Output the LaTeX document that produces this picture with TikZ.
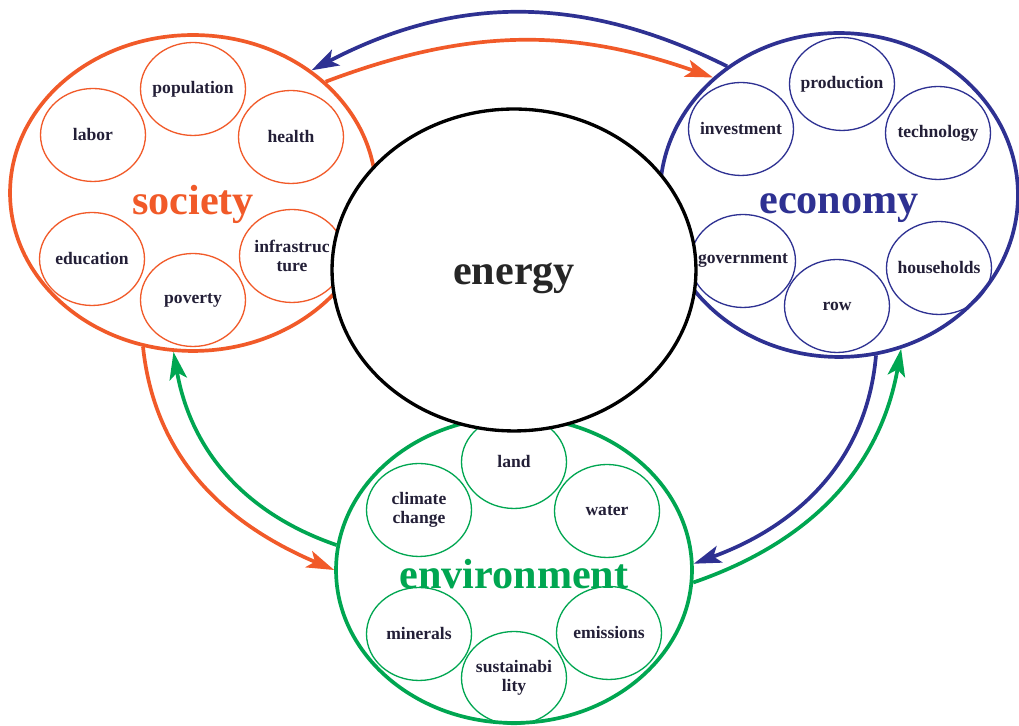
\documentclass[tikz,border=0pt]{standalone}
\usepackage{fontspec}
\setmainfont{Liberation Serif}
\usepackage{xcolor}
\usetikzlibrary{shapes.geometric}
\usetikzlibrary{arrows.meta}
\definecolor{socorange}{RGB}{241,90,41}
\definecolor{ecoblue}{RGB}{46,49,146}
\definecolor{envgreen}{RGB}{0,166,81}
\definecolor{itemink}{RGB}{35,31,55}
\tikzstyle{bigset} = [ellipse, line width=2.1pt, fill=white]
\tikzstyle{bigtext} = [font=\fontsize{24}{28}\selectfont\bfseries]
\tikzstyle{item} = [ellipse, line width=0.75pt, minimum width=2.1cm, minimum height=1.86cm, inner sep=0pt]
\tikzstyle{itemtext} = [align=center, text=itemink, font=\fontsize{10}{10.5}\selectfont\bfseries]
\tikzstyle{arrow} = [line width=2.1pt, -{Stealth[length=5.5mm,width=3.5mm,inset=1.3mm]}]

\begin{document}
\begin{tikzpicture}[x=0.02cm, y=0.02cm]
		\useasboundingbox (0,0) rectangle (1019,726);

		% Society
		\node[bigset, draw=socorange, minimum width=7.32cm, minimum height=6.32cm,
			label={[bigtext, text=socorange, yshift=-0.22cm]center:society}] (soc) at (193,533) {};
		\node[item, draw=socorange, label={[itemtext]center:population}] (population) at (193,637) {};
		\node[item, draw=socorange, label={[itemtext]center:labor}] (labor) at (93,591) {};
		\node[item, draw=socorange, label={[itemtext]center:health}] (health) at (291,589) {};
		\node[item, draw=socorange, label={[itemtext]center:education}] (education) at (92,467) {};
		\node[item, draw=socorange, label={[itemtext]center:poverty}] (poverty) at (193,426) {};
		\node[item, draw=socorange, label={[itemtext]center:infrastruc\\ture}] (infrastructure) at (292,470) {};

		% Economy
		\node[bigset, draw=ecoblue, minimum width=7.16cm, minimum height=6.48cm,
			label={[bigtext, text=ecoblue, yshift=-0.26cm]center:economy}] (eco) at (839,531) {};
		\node[item, draw=ecoblue, label={[itemtext]center:production}] (production) at (842,642) {};
		\node[item, draw=ecoblue, label={[itemtext]center:investment}] (investment) at (741,597) {};
		\node[item, draw=ecoblue, label={[itemtext]center:technology}] (technology) at (938,593) {};
		\node[item, draw=ecoblue, label={[itemtext]center:government}] (government) at (743,465) {};
		\node[item, draw=ecoblue, label={[itemtext]center:row}] (row) at (837,420) {};
		\node[item, draw=ecoblue, label={[itemtext]center:households}] (households) at (939,458) {};

		% Environment
		\node[bigset, draw=envgreen, minimum width=7.12cm, minimum height=6.12cm,
			label={[bigtext, text=envgreen, yshift=-0.08cm]center:environment}] (env) at (514,156) {};
		\node[item, draw=envgreen, label={[itemtext]center:land}] (land) at (514,264) {};
		\node[item, draw=envgreen, label={[itemtext]center:climate\\change}] (climate) at (419,216) {};
		\node[item, draw=envgreen, label={[itemtext]center:water}] (water) at (607,215) {};
		\node[item, draw=envgreen, label={[itemtext]center:minerals}] (minerals) at (419,92) {};
		\node[item, draw=envgreen, label={[itemtext]center:emissions}] (emissions) at (609,93) {};
		\node[item, draw=envgreen, label={[itemtext]center:sustainabi\\lity}] (sustainability) at (514,48) {};

		% Energy in the middle
		\node[bigset, draw=black, line width=1.9pt, minimum width=7.28cm, minimum height=6.44cm,
			label={[bigtext, text=black!85, yshift=-0.16cm]center:energy}] (energy) at (514,456) {};

		% Links between the sets
		\draw[arrow, ecoblue] (eco.131.7) to[bend right=27] (soc.46.4);
		\draw[arrow, socorange] (soc.40) to[bend left=20] (eco.137.6);
		\draw[arrow, socorange] (soc.252.3) to[out=-84, in=157] (env.180);
		\draw[arrow, envgreen] (env.172.6) to[out=161, in=-80] (soc.263);
		\draw[arrow, ecoblue] (eco.283.7) to[out=-95, in=20] (env.2.6);
		\draw[arrow, envgreen] (env.356.8) to[out=19, in=-100] (eco.292.7);
\end{tikzpicture}
\end{document}
